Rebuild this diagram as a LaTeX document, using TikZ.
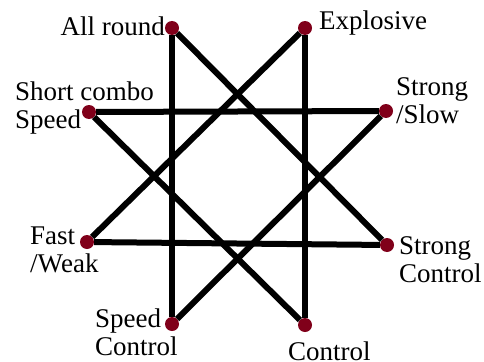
\documentclass[tikz,border=0pt]{standalone}
\usepackage{fontspec}
\setmainfont{Liberation Serif}
\definecolor{dotred}{RGB}{128,0,26}
\tikzset{
  bead/.style={circle, fill=dotred, inner sep=0pt, minimum width=14pt, minimum height=13pt},
  lbl/.style={inner sep=0pt, align=left, font=\fontsize{27}{28}\selectfont},
  spoke/.style={line width=6pt}
}
\begin{document}
\begin{tikzpicture}[x=1pt, y=-1pt]
\useasboundingbox (0,0) rectangle (484,361);
% the eight points
\node[bead] (allround) at (172,28) {};
\node[bead] (explosive) at (305,28) {};
\node[bead] (shortcombo) at (89,112) {};
\node[bead] (strongslow) at (386,111) {};
\node[bead] (fastweak) at (87,242) {};
\node[bead] (strongctrl) at (387,245) {};
\node[bead] (speedctrl) at (172,324) {};
\node[bead] (control) at (305,325) {};
% the star
\draw[spoke] (allround) -- (speedctrl);
\draw[spoke] (allround) -- (strongctrl);
\draw[spoke] (explosive) -- (control);
\draw[spoke] (explosive) -- (fastweak);
\draw[spoke] (shortcombo) -- (strongslow);
\draw[spoke] (shortcombo) -- (control);
\draw[spoke] (strongslow) -- (speedctrl);
\draw[spoke] (fastweak) -- (strongctrl);
% labels
\node[lbl, anchor=base east] (allroundtxt) at (165,36) {All round};
\node[lbl, anchor=base west] (explosivetxt) at (319,30) {Explosive};
\node[lbl, anchor=west] (shortcombotxt) at (15,108) {Short combo\\Speed};
\node[lbl, anchor=west] (strongslowtxt) at (396,101) {Strong\\/Slow};
\node[lbl, anchor=west] (fastweaktxt) at (30,250) {Fast\\/Weak};
\node[lbl, anchor=west] (strongctrltxt) at (399,260) {Strong\\Control};
\node[lbl, anchor=west] (speedctrltxt) at (95,332) {Speed\\Control};
\node[lbl, anchor=base west] (controltxt) at (288,360) {Control};
\end{tikzpicture}
\end{document}
